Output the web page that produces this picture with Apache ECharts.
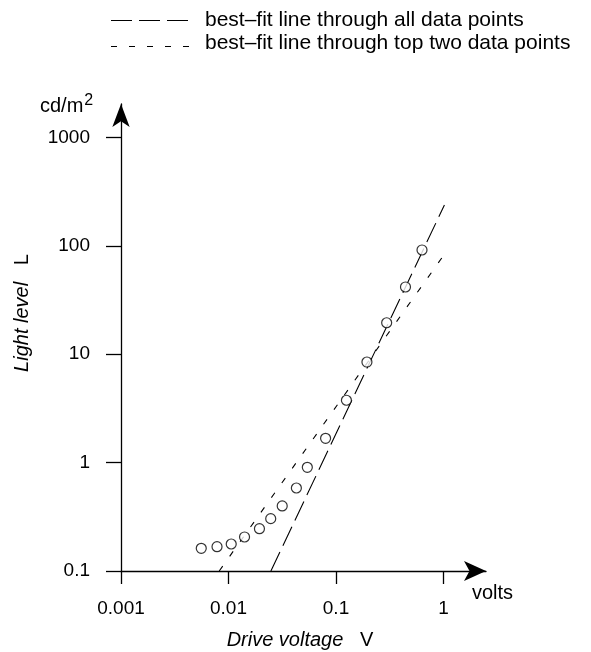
<!DOCTYPE html>
<html lang="en">
<head>
    <meta charset="UTF-8">
    <title>Light level vs drive voltage</title>
    <script type="text/javascript" src="https://cdn.jsdelivr.net/npm/echarts@6/dist/echarts.min.js"></script>
    <style>
        html, body { margin: 0; padding: 0; background: #fff; }
    </style>
</head>
<body>
<div id="chart" style="width: 591px;height: 652px"></div>
<script type="text/javascript">
    // measured points (volts, cd/m2)
    var voltage = [0.00558, 0.00782, 0.0106, 0.0141, 0.0194, 0.0247, 0.0316, 0.0428,
                   0.0541, 0.080, 0.125, 0.194, 0.296, 0.443, 0.631];
    var light = [0.162, 0.1675, 0.1775, 0.206, 0.2455, 0.304, 0.398, 0.583,
                 0.905, 1.675, 3.76, 8.47, 19.5, 41.7, 91.5];
    // best-fit lines, end points
    var fitAllX = [0.0248, 1.02];
    var fitAllY = [0.1, 238];
    var fitTopX = [0.0082, 0.98];
    var fitTopY = [0.1, 79];
    // tick labels
    var xTicks = [0.001, 0.01, 0.1, 1];
    var yTicks = [0.1, 1, 10, 100, 1000];
    var legendNames = ['best\u2013fit line through all data points',
                       'best\u2013fit line through top two data points'];

    var FONT = 'Liberation Sans, Arial, sans-serif';
    var FS = 19;

    function pairs(xs, ys) {
        var out = [];
        for (var i = 0; i < xs.length; i++) {
            out.push([xs[i], ys[i]]);
        }
        return out;
    }

    // grid in px: left 121, right 105, top 104, bottom 81
    var xMax = 0.001 * Math.pow(10, 365 / 107.5);
    var yMax = 0.1 * Math.pow(10, 467 / 108.4);

    var chart = echarts.init(document.getElementById('chart'));
    var option = {
        animation: false,
        backgroundColor: '#fff',
        textStyle: { fontFamily: FONT, color: '#000' },
        grid: { left: 121, right: 105, top: 104, bottom: 81 },
        xAxis: {
            type: 'log',
            logBase: 10,
            min: 0.001,
            max: xMax,
            axisLine: {
                show: true,
                lineStyle: { color: '#000', width: 1.3 },
                symbol: ['none', 'arrow'],
                symbolSize: [15, 22]
            },
            axisTick: {
                show: true,
                inside: false,
                length: 13,
                customValues: xTicks,
                lineStyle: { color: '#000', width: 1.3 }
            },
            axisLabel: {
                customValues: xTicks,
                margin: 28,
                fontFamily: FONT,
                fontSize: FS,
                color: '#000',
                formatter: function (v) { return String(v); }
            },
            splitLine: { show: false },
            minorTick: { show: false }
        },
        yAxis: {
            type: 'log',
            logBase: 10,
            min: 0.1,
            max: yMax,
            axisLine: {
                show: true,
                lineStyle: { color: '#000', width: 1.3 },
                symbol: ['none', 'arrow'],
                symbolSize: [13, 23]
            },
            axisTick: {
                show: true,
                inside: false,
                length: 15,
                customValues: yTicks,
                lineStyle: { color: '#000', width: 1.3 }
            },
            axisLabel: {
                customValues: yTicks,
                margin: 31,
                fontFamily: FONT,
                fontSize: FS,
                color: '#000',
                formatter: function (v) { return String(v); }
            },
            splitLine: { show: false },
            minorTick: { show: false }
        },
        graphic: [
            {
                type: 'text', left: 40, top: 93,
                style: {
                    text: '{a|cd/m}{s|2}',
                    fill: '#000',
                    rich: {
                        a: { fontFamily: FONT, fontSize: 20, lineHeight: 23, verticalAlign: 'bottom' },
                        s: { fontFamily: FONT, fontSize: 16, lineHeight: 23, verticalAlign: 'top', padding: [0, 0, 6, 1] }
                    }
                }
            },
            {
                type: 'text', x: 22, y: 313, rotation: Math.PI / 2,
                style: {
                    text: '{i|Light level}   L',
                    fill: '#000',
                    font: '20px ' + FONT,
                    align: 'center',
                    verticalAlign: 'middle',
                    rich: { i: { fontFamily: FONT, fontSize: 20, fontStyle: 'italic' } }
                }
            },
            {
                type: 'text', x: 300, y: 640,
                style: {
                    text: '{i|Drive voltage}   V',
                    fill: '#000',
                    font: '20px ' + FONT,
                    align: 'center',
                    verticalAlign: 'middle',
                    rich: { i: { fontFamily: FONT, fontSize: 20, fontStyle: 'italic' } }
                }
            },
            {
                type: 'text', x: 472, y: 593,
                style: {
                    text: 'volts',
                    fill: '#000',
                    font: '20px ' + FONT,
                    align: 'left',
                    verticalAlign: 'middle'
                }
            },
            // legend: line samples and texts
            {
                type: 'line', shape: { x1: 111, y1: 20.5, x2: 188, y2: 20.5 },
                style: { stroke: '#000', lineWidth: 1.2, lineDash: [21, 7] }
            },
            {
                type: 'line', shape: { x1: 111, y1: 46.5, x2: 189, y2: 46.5 },
                style: { stroke: '#000', lineWidth: 1.2, lineDash: [6, 12] }
            },
            {
                type: 'text', x: 205, y: 20,
                style: {
                    text: legendNames[0], fill: '#000', font: '21px ' + FONT,
                    align: 'left', verticalAlign: 'middle'
                }
            },
            {
                type: 'text', x: 205, y: 43,
                style: {
                    text: legendNames[1], fill: '#000', font: '21px ' + FONT,
                    align: 'left', verticalAlign: 'middle'
                }
            }
        ],
        series: [
            {
                name: legendNames[0],
                type: 'line',
                data: pairs(fitAllX, fitAllY),
                symbol: 'none',
                lineStyle: { color: '#000', width: 1.1, type: [21, 7] },
                z: 2
            },
            {
                name: legendNames[1],
                type: 'line',
                data: pairs(fitTopX, fitTopY),
                symbol: 'none',
                lineStyle: { color: '#000', width: 1.1, type: [6, 12] },
                z: 2
            },
            {
                name: 'measured',
                type: 'scatter',
                data: pairs(voltage, light),
                symbol: 'circle',
                symbolSize: 10,
                itemStyle: { color: '#fff', borderColor: '#000', borderWidth: 1.2 },
                z: 5
            }
        ]
    };
    option && chart.setOption(option);
</script>
</body>
</html>
